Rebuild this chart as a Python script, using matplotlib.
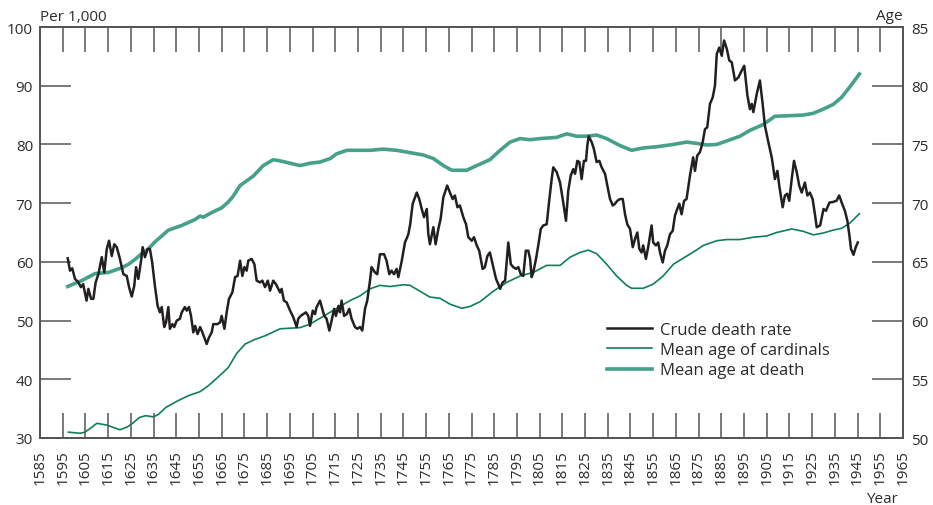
import numpy as np
import matplotlib
matplotlib.use("Agg")
import matplotlib.pyplot as plt

plt.rcParams['font.family'] = ['Open Sans', 'DejaVu Sans']

# crude death rate (per 1,000) - left axis
cdr_year = [1597.2, 1598.2, 1599.2, 1600.4, 1601.9, 1603.0, 1604.0, 1605.5, 1606.3, 1607.5,
            1608.5, 1609.5, 1610.7, 1612.2, 1613.3, 1614.4, 1615.4, 1616.6, 1617.7, 1618.8,
            1620.2, 1621.7, 1623.2, 1624.2, 1625.4, 1626.5, 1627.3, 1628.3, 1629.5, 1630.2,
            1631.2, 1632.4, 1633.4, 1634.4, 1635.6, 1636.8, 1637.8, 1638.6, 1639.7, 1640.5,
            1641.5, 1642.2, 1643.3, 1644.1, 1645.2, 1646.6, 1647.4, 1648.8, 1649.6, 1650.6,
            1651.5, 1652.5, 1653.3, 1654.4, 1655.5, 1656.5, 1658.4, 1659.4, 1660.6, 1661.3,
            1663.2, 1664.3, 1665.0, 1666.2, 1667.2, 1668.2, 1669.7, 1670.9, 1672.0, 1673.1,
            1674.1, 1675.0, 1676.0, 1676.7, 1678.2, 1679.4, 1680.4, 1681.9, 1682.9, 1684.1,
            1685.3,
            1686.3, 1687.7, 1688.9, 1690.7, 1691.4, 1692.4, 1693.6, 1695.1, 1696.5, 1698.0,
            1698.7, 1699.8, 1700.9, 1702.1, 1703.1, 1703.9, 1705.1, 1706.1, 1706.8, 1708.3,
            1709.5, 1710.2, 1711.2, 1712.4, 1713.4, 1714.5, 1715.3, 1716.4, 1717.1, 1717.8,
            1718.9, 1720.1, 1721.2, 1722.2, 1723.7, 1724.7, 1725.9, 1726.9, 1728.1, 1729.1,
            1730.3, 1731.0, 1732.5, 1733.5, 1734.7, 1736.5, 1737.6, 1738.8, 1739.8, 1740.9,
            1742.0, 1742.8, 1744.3, 1745.7, 1747.2, 1748.0, 1749.1, 1750.9, 1752.0, 1753.1,
            1754.1, 1755.3, 1756.0, 1756.7, 1758.2, 1759.2, 1760.4, 1761.4, 1762.6, 1764.3,
            1765.5, 1766.7, 1767.7, 1768.8, 1769.9, 1771.4, 1772.6, 1773.6, 1775.1, 1776.1,
            1777.3, 1778.4,
            1779.9, 1780.9, 1782.0, 1783.1, 1784.6, 1785.8, 1786.8, 1787.6, 1788.7, 1789.8,
            1791.2, 1792.3, 1793.4, 1794.6, 1795.6, 1796.7, 1797.8, 1798.9, 1800.0, 1800.8,
            1801.5, 1802.2, 1803.4, 1804.4, 1805.5, 1806.6, 1808.1, 1809.3, 1810.3, 1811.0,
            1812.5, 1814.0, 1815.4, 1816.6, 1817.6, 1818.7, 1819.8, 1820.6, 1821.6, 1822.5,
            1823.5, 1824.5, 1825.4, 1826.0, 1826.6, 1827.9, 1828.9, 1830.1, 1831.3, 1832.3,
            1833.8, 1834.8, 1836.0, 1837.2, 1838.2, 1839.2, 1840.4, 1841.6, 1842.6, 1843.6,
            1844.8, 1846.0, 1847.0, 1848.0, 1848.9, 1849.9, 1850.6, 1851.8, 1852.8, 1854.3,
            1855.0, 1856.2, 1857.2, 1858.0, 1859.2, 1860.2, 1861.2, 1862.4, 1863.6, 1864.6,
            1865.6, 1866.5, 1867.5, 1868.6, 1869.7,
            1871.2, 1872.6, 1873.4, 1874.4, 1875.6, 1876.8, 1877.8, 1878.8, 1880.0, 1881.2,
            1882.2, 1883.0, 1884.1, 1885.2, 1886.2, 1887.4, 1888.5, 1889.6, 1891.0, 1892.5,
            1894.0, 1895.1, 1896.5, 1897.6, 1898.4, 1899.1, 1900.6, 1902.0, 1903.2, 1904.2,
            1905.7, 1907.2, 1908.6, 1909.7, 1910.5, 1912.0, 1913.0, 1914.0, 1914.9, 1916.0,
            1917.0, 1918.2, 1919.3, 1920.4, 1921.8, 1922.9, 1924.0, 1925.2, 1926.3, 1927.0,
            1928.5, 1930.0, 1931.1, 1932.6, 1934.2, 1935.7, 1936.9, 1938.0, 1939.4, 1940.5,
            1941.4, 1942.1, 1943.2, 1944.2, 1945.1]
cdr_rate = [60.6, 58.5, 58.9, 57.1, 56.5, 55.7, 56.2, 53.4, 55.4, 53.7,
            53.7, 56.5, 57.9, 60.8, 58.2, 62.2, 63.6, 61.0, 63.0, 62.5,
            60.5, 57.9, 57.6, 55.7, 54.1, 55.9, 59.1, 57.1, 60.2, 62.5,
            60.8, 62.2, 62.2, 59.9, 55.9, 52.5, 51.4, 52.3, 48.9, 49.7,
            52.3, 48.6, 49.4, 48.9, 50.0, 50.3, 51.4, 52.3, 51.7, 52.3,
            50.8, 48.0, 49.1, 47.7, 48.9, 48.0, 46.0, 47.1, 48.0, 49.4,
            49.4, 49.7, 50.8, 48.6, 51.4, 53.7, 54.8, 57.4, 57.6, 60.2,
            57.6, 59.1, 58.5, 60.2, 60.5, 59.6, 56.8, 56.5, 56.8, 55.7,
            56.8,
            55.1, 56.8, 56.2, 54.8, 55.4, 53.4, 53.1, 51.7, 50.6, 48.9,
            50.3, 50.8, 51.1, 51.4, 50.8, 49.1, 51.7, 51.1, 52.3, 53.4,
            51.7, 50.8, 50.3, 48.3, 50.0, 52.0, 50.8, 52.5, 51.4, 53.4,
            50.8, 51.1, 52.0, 50.3, 48.9, 48.6, 48.9, 48.3, 52.0, 53.4,
            56.8, 59.1, 58.2, 57.9, 61.3, 61.3, 60.2, 57.9, 58.5, 57.9,
            58.8, 57.4, 60.2, 63.3, 64.7, 66.4, 69.9, 71.8, 70.7, 69.0,
            67.6, 69.0, 64.7, 63.0, 65.9, 63.0, 65.6, 67.3, 71.0, 73.0,
            71.8, 70.7, 71.3, 69.3, 69.6, 67.6, 66.4, 64.2, 63.6, 64.2,
            62.8, 61.9,
            58.8, 59.1, 61.0, 61.6, 59.1, 57.1, 56.2, 55.4, 56.5, 56.8,
            63.3, 59.6, 59.1, 58.8, 59.1, 57.9, 57.6, 61.9, 61.9, 60.5,
            57.4, 58.2, 60.5, 62.8, 65.6, 66.2, 66.4, 70.7, 74.1, 76.1,
            75.3, 73.5, 70.1, 67.0, 72.1, 74.7, 75.8, 75.0, 77.2, 77.0,
            74.1, 77.2, 77.2, 79.8, 81.4, 80.4, 79.2, 77.0, 77.2, 76.1,
            75.0, 73.0, 70.7, 69.6, 69.9, 70.4, 70.7, 70.7, 68.1, 66.4,
            65.6, 62.5, 63.9, 65.0, 62.2, 61.6, 62.8, 60.5, 62.5, 66.2,
            63.3, 62.8, 63.3, 61.6, 59.9, 61.9, 62.8, 64.7, 65.3, 67.9,
            69.0, 69.9, 68.1, 70.4, 70.7,
            74.7, 77.8, 75.5, 78.1, 78.7, 80.4, 82.6, 82.9, 86.9, 88.0,
            90.0, 95.4, 96.5, 95.1, 97.7, 96.3, 94.3, 94.0, 90.9, 91.4,
            92.6, 93.4, 88.3, 86.0, 86.9, 85.5, 88.6, 90.9, 86.9, 83.2,
            80.4, 77.8, 74.1, 75.5, 73.0, 69.3, 71.3, 71.6, 70.4, 74.1,
            77.2, 75.3, 73.0, 71.8, 73.5, 71.3, 71.8, 70.7, 67.9, 65.9,
            66.2, 69.0, 68.7, 70.1, 70.2, 70.4, 71.3, 70.1, 68.7, 67.0,
            64.5, 62.2, 61.2, 62.5, 63.3]

# mean age of cardinals - right axis
card_year = [1597.5, 1602.6, 1604.8, 1607.0, 1610.0, 1614.4, 1617.3, 1620.2, 1623.5, 1626.1,
             1628.8, 1631.5, 1634.9, 1637.1, 1640.4, 1645.5, 1650.3, 1655.5, 1659.1, 1663.5,
             1667.9, 1671.6, 1675.3, 1679.7, 1684.1, 1688.5, 1690.7, 1695.1, 1699.5, 1703.9,
             1708.3, 1712.7, 1717.1, 1721.5, 1725.9, 1730.3, 1734.7, 1739.1, 1745.0, 1747.9,
             1752.3, 1756.7, 1761.1, 1765.5, 1770.7, 1774.3, 1778.7, 1784.6, 1790.5, 1796.4,
             1802.2, 1808.1, 1814.0, 1818.4, 1822.8, 1826.4, 1830.1, 1834.5, 1838.9, 1843.3,
             1845.5, 1850.6, 1855.0, 1859.4, 1863.9, 1869.8, 1874.0, 1877.1, 1883.0, 1887.4,
             1893.2, 1899.1, 1904.9, 1909.4, 1916.0, 1921.1, 1925.5, 1929.8, 1934.2, 1937.9,
             1941.6, 1945.8]
card_age = [50.5, 50.4, 50.5, 50.8, 51.25, 51.1, 50.9, 50.7, 50.95, 51.3,
            51.75, 51.9, 51.8, 52.0, 52.6, 53.15, 53.6, 53.95, 54.45, 55.2,
            56.0, 57.2, 58.0, 58.4, 58.7, 59.1, 59.3, 59.35, 59.4, 59.7,
            60.2, 60.7, 61.2, 61.7, 62.1, 62.7, 63.0, 62.9, 63.05, 63.0,
            62.5, 62.0, 61.9, 61.4, 61.05, 61.2, 61.6, 62.5, 63.25, 63.8,
            64.1, 64.7, 64.7, 65.4, 65.8, 66.0, 65.7, 64.8, 63.8, 63.0,
            62.75, 62.75, 63.1, 63.8, 64.8, 65.5, 66.0, 66.4, 66.8, 66.9,
            66.9, 67.1, 67.2, 67.5, 67.8, 67.6, 67.3, 67.45, 67.7, 67.85,
            68.3, 69.1]

# mean age at death - right axis
death_year = [1597.2, 1603.3, 1606.3, 1609.2, 1612.2, 1615.1, 1618.1, 1621.0, 1624.0, 1626.8,
              1629.8, 1632.7, 1635.6, 1638.6, 1641.5, 1647.4, 1653.2, 1655.5, 1656.9, 1660.6,
              1665.0, 1667.9, 1670.1, 1673.1, 1678.9, 1683.3, 1687.7, 1690.7, 1695.1, 1699.5,
              1703.9, 1708.3, 1712.8, 1715.6, 1720.1, 1724.5, 1730.3, 1736.2, 1742.0, 1747.9,
              1753.8, 1758.2, 1762.6, 1766.3, 1772.9, 1777.3, 1783.1, 1787.6, 1792.0, 1796.4,
              1800.8, 1805.2, 1812.5, 1816.9, 1821.3, 1825.7, 1830.1, 1834.5, 1840.4, 1845.5,
              1850.6, 1856.5, 1863.9, 1869.8, 1875.6, 1878.6, 1883.0, 1887.4, 1893.2, 1897.6,
              1903.5, 1908.6, 1915.2, 1921.1, 1925.5, 1929.8, 1934.2, 1937.9, 1941.6, 1945.8]
death_age = [62.9, 63.4, 63.7, 64.0, 64.05, 64.1, 64.3, 64.5, 64.8, 65.2,
             65.7, 66.1, 66.7, 67.2, 67.7, 68.1, 68.6, 68.9, 68.8, 69.2,
             69.6, 70.1, 70.6, 71.5, 72.3, 73.2, 73.7, 73.6, 73.4, 73.2,
             73.4, 73.5, 73.8, 74.2, 74.5, 74.5, 74.5, 74.6, 74.5, 74.3,
             74.1, 73.8, 73.2, 72.8, 72.8, 73.2, 73.7, 74.5, 75.2, 75.5,
             75.4, 75.5, 75.6, 75.9, 75.7, 75.7, 75.8, 75.5, 74.9, 74.5,
             74.7, 74.8, 75.0, 75.2, 75.05, 74.95, 75.0, 75.3, 75.7, 76.2,
             76.7, 77.4, 77.45, 77.5, 77.65, 78.0, 78.4, 79.0, 79.9, 81.0]

text_col = '#2b2b2b'
axis_col = '#555555'

fig = plt.figure(figsize=(9.33, 5.06), dpi=100)
ax = fig.add_axes([40/933, 1-439/506, 863/933, 411/506])
ax2 = ax.twinx()

l1, = ax.plot(cdr_year, cdr_rate, color='#231f20', lw=1.8, zorder=3, label='Crude death rate')
l2, = ax2.plot(card_year, card_age, color='#0e7f5a', lw=1.2, label='Mean age of cardinals')
l3, = ax2.plot(death_year, death_age, color='#46a08a', lw=2.6, label='Mean age at death')
ax.set_zorder(ax2.get_zorder() + 1)
ax.patch.set_visible(False)

ax.set_xlim(1585, 1965)
ax.set_ylim(30, 100)
ax2.set_ylim(50, 85)

ax.set_xticks(np.arange(1585, 1966, 10))
ax.set_xticklabels([str(y) for y in range(1585, 1966, 10)], rotation=90)
ax.set_yticks(np.arange(30, 101, 10))
ax2.set_yticks(np.arange(50, 86, 5))

ax.tick_params(axis='x', direction='in', length=18, width=1.1, top=True, bottom=True,
               labelsize=11, pad=8, colors=axis_col, labelcolor=text_col)
ax.tick_params(axis='y', direction='in', length=22, width=1.1,
               labelsize=11, pad=5, colors=axis_col, labelcolor=text_col)
ax2.tick_params(axis='y', direction='in', length=22, width=1.1,
                labelsize=11, pad=6, colors=axis_col, labelcolor=text_col)
for a in (ax, ax2):
    for s in a.spines.values():
        s.set_color(axis_col)
        s.set_linewidth(1.3)

fig.text(40/933, 1-21/506, 'Per 1,000', fontsize=11, color=text_col, ha='left', va='baseline')
fig.text(903/933, 1-20/506, 'Age', fontsize=11, color=text_col, ha='right', va='baseline')
fig.text(898/933, 1-503/506, 'Year', fontsize=11, color=text_col, ha='right', va='baseline')

leg = ax.legend(handles=[l1, l2, l3], loc='upper left', bbox_to_anchor=(607/933, 1-323/506),
                bbox_transform=fig.transFigure, frameon=False, fontsize=12,
                handlelength=2.7, handletextpad=0.5, labelspacing=0.25,
                borderpad=0, borderaxespad=0)
for t in leg.get_texts():
    t.set_color(text_col)

fig.savefig('out.png', dpi=100)
